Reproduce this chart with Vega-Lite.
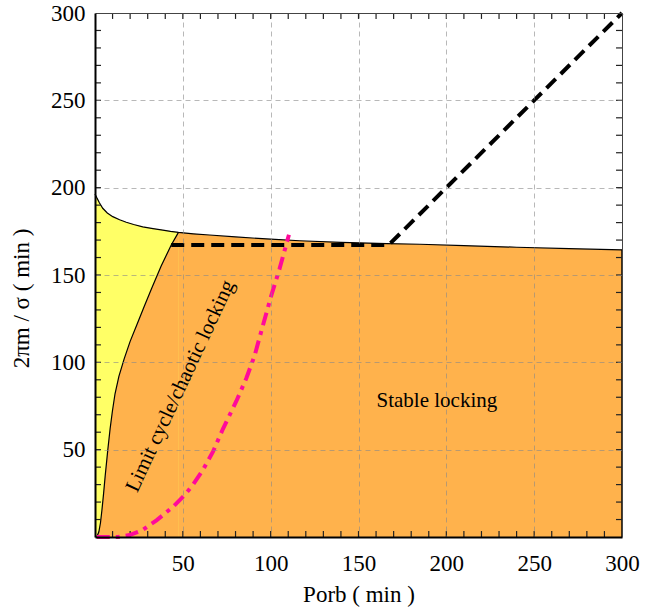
{
  "$schema": "https://vega.github.io/schema/vega-lite/v6.json",
  "width": 527,
  "height": 524,
  "autosize": "none",
  "padding": {"left": 95, "top": 13, "right": 40, "bottom": 77},
  "background": "white",
  "config": {"view": {"stroke": null}, "font": "Liberation Serif"},
  "datasets": {
    "upper": [
      {"x": 0, "y": 196.4}, {"x": 1, "y": 194.3}, {"x": 2.5, "y": 191.4}, {"x": 4.4, "y": 188.2},
      {"x": 7, "y": 185.5}, {"x": 10.1, "y": 183.4}, {"x": 14, "y": 181.6}, {"x": 17.8, "y": 180.2},
      {"x": 22, "y": 178.9}, {"x": 27.2, "y": 177.6}, {"x": 33, "y": 176.6}, {"x": 38.6, "y": 175.7},
      {"x": 43, "y": 175}, {"x": 47.5, "y": 174.4}, {"x": 56, "y": 173.6}, {"x": 65.2, "y": 172.9},
      {"x": 80, "y": 171.8}, {"x": 100, "y": 170.5}, {"x": 116.5, "y": 169.6}, {"x": 140, "y": 168.7},
      {"x": 166, "y": 168}, {"x": 185, "y": 167.6}, {"x": 210, "y": 166.8}, {"x": 240, "y": 165.9},
      {"x": 270, "y": 165.1}, {"x": 300, "y": 164.4}
    ],
    "boundary": [
      {"x": 1.0, "y": 0}, {"x": 2.2, "y": 3}, {"x": 3.1, "y": 8}, {"x": 3.9, "y": 15},
      {"x": 4.9, "y": 25}, {"x": 5.8, "y": 35}, {"x": 7.3, "y": 50}, {"x": 8.6, "y": 62},
      {"x": 9.9, "y": 72}, {"x": 11.4, "y": 82}, {"x": 13.6, "y": 92}, {"x": 16.6, "y": 102},
      {"x": 20.0, "y": 112}, {"x": 24.0, "y": 122}, {"x": 28.0, "y": 132}, {"x": 32.1, "y": 142},
      {"x": 37.6, "y": 155}, {"x": 43.4, "y": 167.2}, {"x": 47.5, "y": 174.4}
    ],
    "dash": [
      {"x": 43.4, "y": 167.2}, {"x": 167.2, "y": 167.2}, {"x": 300, "y": 300}
    ],
    "pink": [
      {"x": 1, "y": 0}, {"x": 13, "y": 0}, {"x": 19.7, "y": 1.1}, {"x": 27.1, "y": 4.0},
      {"x": 35, "y": 9.5}, {"x": 44.3, "y": 17.2}, {"x": 51, "y": 24}, {"x": 55.7, "y": 29.8},
      {"x": 61.4, "y": 38.3}, {"x": 67.1, "y": 48.7}, {"x": 72.8, "y": 61.8}, {"x": 80.5, "y": 77.9},
      {"x": 86.2, "y": 91}, {"x": 90.9, "y": 104}, {"x": 95.6, "y": 121.2}, {"x": 100.4, "y": 138.4},
      {"x": 105.1, "y": 153.7}, {"x": 110.4, "y": 173}
    ],
    "ticks": [
      {"v": 10}, {"v": 20}, {"v": 30}, {"v": 40}, {"v": 50}, {"v": 60}, {"v": 70}, {"v": 80}, {"v": 90},
      {"v": 100}, {"v": 110}, {"v": 120}, {"v": 130}, {"v": 140}, {"v": 150}, {"v": 160}, {"v": 170},
      {"v": 180}, {"v": 190}, {"v": 200}, {"v": 210}, {"v": 220}, {"v": 230}, {"v": 240}, {"v": 250},
      {"v": 260}, {"v": 270}, {"v": 280}, {"v": 290}
    ],
    "label1": [{"x": 48.7, "y": 86.4, "text": "Limit cycle/chaotic locking"}],
    "label2": [{"x": 194.6, "y": 77.9, "text": "Stable locking"}]
  },
  "resolve": {"axis": {"x": "independent", "y": "independent"}},
  "layer": [
    {
      "data": {"name": "upper"},
      "mark": {"type": "area", "color": "#FFB24C"},
      "encoding": {
        "x": {
          "field": "x", "type": "quantitative",
          "scale": {"domain": [0, 300], "nice": false, "zero": false},
          "axis": {
            "orient": "bottom",
            "values": [0, 50, 100, 150, 200, 250, 300],
            "labelExpr": "datum.value > 0 ? datum.label : ''",
            "labelOverlap": false, "labelFlush": false,
            "labelFont": "Liberation Serif", "labelFontSize": 23, "labelColor": "black",
            "labelPadding": 15,
            "ticks": false, "tickSize": 0,
            "domainColor": "black", "domainWidth": 2,
            "grid": true, "gridColor": "#888", "gridDash": [5, 4],
            "gridOpacity": {"condition": {"test": "datum.value > 0 && datum.value < 300", "value": 0.6}, "value": 0},
            "title": "Porb ( min )", "titleFont": "Liberation Serif", "titleFontSize": 23,
            "titleFontWeight": "normal", "titleColor": "black", "titlePadding": 8,
            "zindex": 1
          }
        },
        "y": {
          "field": "y", "type": "quantitative",
          "scale": {"domain": [0, 300], "nice": false, "zero": false},
          "axis": {
            "orient": "left",
            "values": [0, 50, 100, 150, 200, 250, 300],
            "labelExpr": "datum.value > 0 ? datum.label : ''",
            "labelOverlap": false, "labelFlush": false,
            "labelFont": "Liberation Serif", "labelFontSize": 23, "labelColor": "black",
            "labelPadding": 10,
            "ticks": false, "tickSize": 0,
            "domainColor": "black", "domainWidth": 2,
            "grid": true, "gridColor": "#888", "gridDash": [5, 4],
            "gridOpacity": {"condition": {"test": "datum.value > 0 && datum.value < 300", "value": 0.6}, "value": 0},
            "title": "2πm / σ ( min )", "titleFont": "Liberation Serif", "titleFontSize": 23,
            "titleFontWeight": "normal", "titleColor": "black", "titlePadding": 17,
            "titleY": 285,
            "zindex": 1
          }
        }
      }
    },
    {
      "data": {"name": "upper"},
      "transform": [{"filter": "datum.x <= 47.6"}],
      "mark": {"type": "area", "color": "#FFFF66"},
      "encoding": {
        "x": {"field": "x", "type": "quantitative", "axis": null},
        "y": {"field": "y", "type": "quantitative", "axis": null}
      }
    },
    {
      "data": {"name": "boundary"},
      "mark": {"type": "area", "orient": "horizontal", "color": "#FFB24C"},
      "encoding": {
        "y": {"field": "y", "type": "quantitative", "axis": null},
        "x": {"field": "x", "type": "quantitative", "axis": null},
        "x2": {"datum": 47.6}
      }
    },
    {
      "data": {"name": "boundary"},
      "mark": {"type": "line", "color": "black", "strokeWidth": 1.2},
      "encoding": {
        "x": {"field": "x", "type": "quantitative", "axis": null},
        "y": {"field": "y", "type": "quantitative", "axis": null}
      }
    },
    {
      "data": {"name": "upper"},
      "mark": {"type": "line", "color": "black", "strokeWidth": 1.2},
      "encoding": {
        "x": {
          "field": "x", "type": "quantitative",
          "axis": {
            "orient": "bottom", "offset": -524,
            "values": [0, 300],
            "labels": false, "grid": false, "title": null, "ticks": false,
            "domainColor": "#444", "domainWidth": 1, "zindex": 1
          }
        },
        "y": {
          "field": "y", "type": "quantitative",
          "axis": {
            "orient": "left", "offset": -527,
            "values": [0, 300],
            "labels": false, "grid": false, "title": null, "ticks": false,
            "domainColor": "#444", "domainWidth": 1, "zindex": 1
          }
        }
      }
    },
    {
      "data": {"values": [{}]},
      "mark": {"type": "rule", "color": "black", "strokeWidth": 1.5},
      "encoding": {
        "x": {"datum": 300, "type": "quantitative", "axis": null},
        "y": {"datum": 0, "type": "quantitative", "axis": null},
        "y2": {"datum": 164.4}
      }
    },
    {
      "data": {"name": "ticks"},
      "mark": {"type": "rule", "color": "#222", "strokeWidth": 1.2},
      "encoding": {
        "x": {"field": "v", "type": "quantitative", "axis": null},
        "y": {"datum": 0, "type": "quantitative", "axis": null},
        "y2": {"datum": 3.4}
      }
    },
    {
      "data": {"name": "ticks"},
      "mark": {"type": "rule", "color": "#222", "strokeWidth": 1.2},
      "encoding": {
        "x": {"field": "v", "type": "quantitative", "axis": null},
        "y": {"datum": 296.6, "type": "quantitative", "axis": null},
        "y2": {"datum": 300}
      }
    },
    {
      "data": {"name": "ticks"},
      "mark": {"type": "rule", "color": "#222", "strokeWidth": 1.2},
      "encoding": {
        "y": {"field": "v", "type": "quantitative", "axis": null},
        "x": {"datum": 0, "type": "quantitative", "axis": null},
        "x2": {"datum": 3.4}
      }
    },
    {
      "data": {"name": "ticks"},
      "mark": {"type": "rule", "color": "#222", "strokeWidth": 1.2},
      "encoding": {
        "y": {"field": "v", "type": "quantitative", "axis": null},
        "x": {"datum": 296.6, "type": "quantitative", "axis": null},
        "x2": {"datum": 300}
      }
    },
    {
      "data": {"name": "dash"},
      "mark": {"type": "line", "color": "black", "strokeWidth": 4, "strokeDash": [13, 7], "strokeCap": "butt"},
      "encoding": {
        "x": {"field": "x", "type": "quantitative", "axis": null},
        "y": {"field": "y", "type": "quantitative", "axis": null}
      }
    },
    {
      "data": {"name": "pink"},
      "mark": {"type": "line", "color": "#FF0A9B", "strokeWidth": 4, "strokeDash": [13, 6, 4, 6], "strokeCap": "butt"},
      "encoding": {
        "x": {"field": "x", "type": "quantitative", "axis": null},
        "y": {"field": "y", "type": "quantitative", "axis": null}
      }
    },
    {
      "data": {"name": "label1"},
      "mark": {"type": "text", "angle": -65, "font": "Liberation Serif", "fontSize": 21, "color": "black", "align": "center", "baseline": "middle"},
      "encoding": {
        "x": {"field": "x", "type": "quantitative", "axis": null},
        "y": {"field": "y", "type": "quantitative", "axis": null},
        "text": {"field": "text"}
      }
    },
    {
      "data": {"name": "label2"},
      "mark": {"type": "text", "font": "Liberation Serif", "fontSize": 21, "color": "black", "align": "center", "baseline": "middle"},
      "encoding": {
        "x": {"field": "x", "type": "quantitative", "axis": null},
        "y": {"field": "y", "type": "quantitative", "axis": null},
        "text": {"field": "text"}
      }
    }
  ]
}
